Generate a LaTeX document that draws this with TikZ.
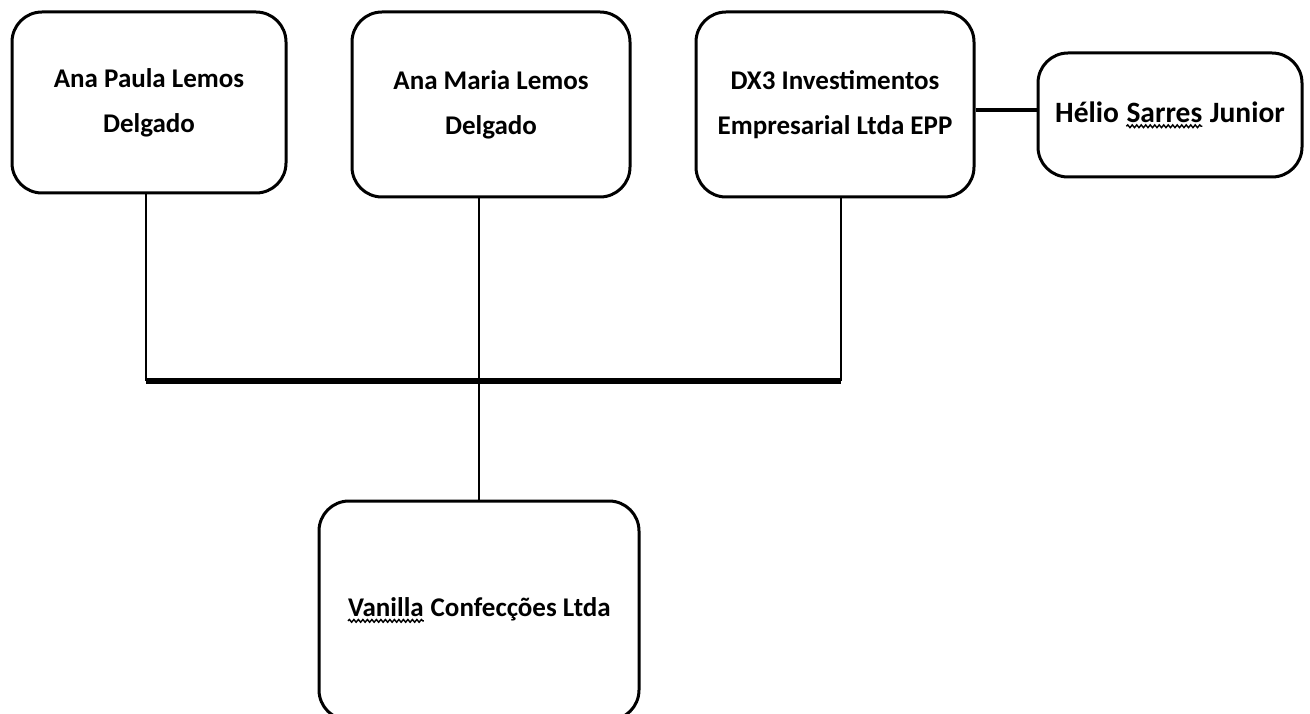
\documentclass[tikz,border=0pt]{standalone}
\usepackage{fontspec}
\setmainfont{Carlito}
\usetikzlibrary{decorations.pathmorphing}

% wavy spell-check line under a word
\newcommand{\squigword}[1]{\tikz[baseline=(w.base), x=1pt, y=1pt, sharp corners]{%
    \node[draw=none, inner sep=0pt, minimum width=0pt, minimum height=0pt, anchor=base] (w) {#1};%
    \draw[line width=1.4pt, decorate, decoration={snake, amplitude=1.4pt, segment length=4.5pt}] ([yshift=-3.5pt]w.south west) -- ([yshift=-3.5pt]w.south east);}}

\begin{document}
\begin{tikzpicture}[x=1pt, y=-1pt,
        person/.style={draw, line width=3pt, rounded corners=30pt, align=center, inner sep=0pt,
            font=\bfseries\fontsize{27}{45}\selectfont},
        drop/.style={line width=2.8pt},
        bus/.style={line width=6pt}]
        \useasboundingbox (0,0) rectangle (1310,714);

        % owners
        \node[person, minimum width=274pt, minimum height=181pt] (paula) at (149,102.5) {Ana Paula Lemos\\Delgado};
        \node[person, minimum width=278pt, minimum height=185pt] (maria) at (491,104.5) {Ana Maria Lemos\\Delgado};
        \node[person, minimum width=278pt, minimum height=185pt] (dx3) at (835,104.5) {DX3 Investimentos\\Empresarial Ltda EPP};
        \node[person, minimum width=264pt, minimum height=124pt, font=\bfseries\fontsize{29.5}{45}\selectfont] (helio) at (1170,115) {H\'elio \squigword{Sarres} Junior};

        % company
        \node[person, minimum width=320pt, minimum height=219pt] (vanilla) at (479,610.5) {\squigword{Vanilla} Confec\c{c}\~oes Ltda};

        % bus
        \coordinate (busL) at (146,381);
        \coordinate (busR) at (841,381);
        \coordinate (side) at (1000,110);
        \draw[drop] (paula.south -| busL) -- (busL);
        \draw[drop] (dx3.south -| busR) -- (busR);
        \draw[bus] (busL) -- (busR);
        \draw[drop] (maria.south -| vanilla.north) -- (vanilla.north);
        \draw[line width=4pt] (dx3.east |- side) -- (helio.west |- side);
    \end{tikzpicture}
\end{document}
